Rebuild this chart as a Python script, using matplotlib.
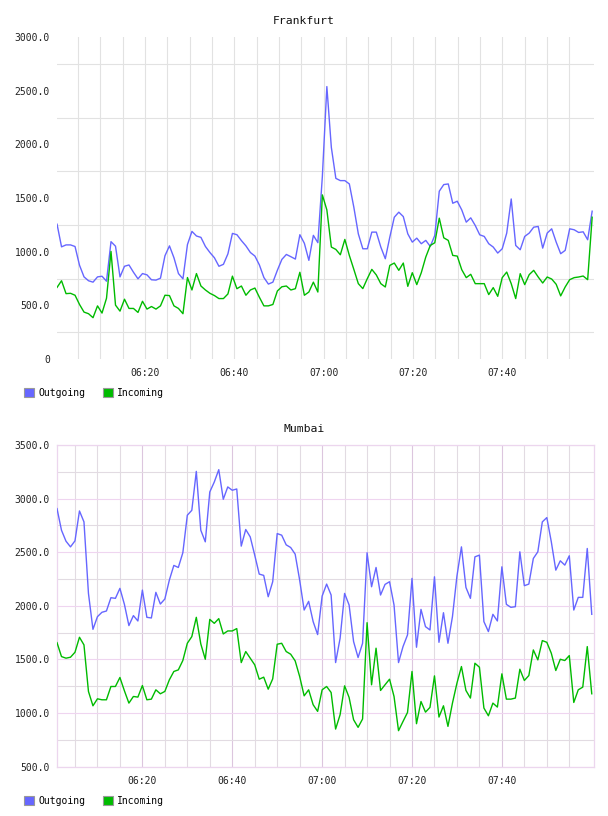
import numpy as np
import matplotlib
matplotlib.use('Agg')
import matplotlib.pyplot as plt
from matplotlib.patches import Patch

plt.rcParams['font.family'] = ['DejaVu Sans Mono']

# Frankfurt, one sample per minute from about 06:00
fra_out = [1256, 1045, 1063, 1063, 1048, 873, 765, 729, 716, 765,
           771, 725, 1093, 1051, 765, 864, 876, 808, 747, 796,
           784, 738, 735, 753, 962, 1054, 943, 796, 747, 1066,
           1189, 1146, 1133, 1048, 992, 943, 864, 882, 980, 1170,
           1158, 1103, 1054, 992, 959, 876, 759, 698, 716, 827,
           928, 974, 953, 931, 1158, 1078, 919, 1152, 1084, 1700,
           2538, 1971, 1683, 1662, 1662, 1631, 1414, 1166, 1027, 1027,
           1182, 1182, 1043, 934, 1135, 1321, 1368, 1327, 1166, 1089,
           1126, 1074, 1105, 1049, 1151, 1563, 1625, 1631, 1451, 1470,
           1389, 1275, 1315, 1244, 1157, 1142, 1074, 1043, 987, 1027,
           1173, 1491, 1058, 1018, 1142, 1173, 1228, 1235, 1033, 1173,
           1213, 1089, 981, 1012, 1213, 1204, 1179, 1185, 1111, 1377]
fra_in = [667, 729, 609, 612, 594, 508, 437, 422, 385, 495,
          428, 566, 1002, 502, 446, 557, 471, 471, 434, 538,
          465, 489, 465, 495, 594, 591, 495, 471, 422, 759,
          643, 796, 680, 643, 612, 591, 563, 563, 606, 772,
          655, 680, 594, 643, 661, 575, 495, 495, 508, 634,
          673, 680, 643, 655, 808, 594, 624, 716, 624, 1529,
          1389, 1043, 1021, 971, 1114, 965, 835, 702, 656, 749,
          835, 783, 702, 671, 872, 894, 826, 894, 677, 804,
          693, 804, 950, 1058, 1083, 1312, 1129, 1105, 965, 959,
          832, 758, 789, 702, 702, 702, 600, 665, 584, 758,
          810, 702, 563, 795, 693, 786, 826, 764, 708, 764,
          745, 696, 588, 671, 739, 758, 764, 773, 739, 1321]

# Mumbai, one sample per minute from 06:01
mum_out = [2907, 2705, 2603, 2550, 2606, 2885, 2783, 2116, 1781, 1899,
           1940, 1952, 2076, 2070, 2163, 2014, 1816, 1909, 1859, 2147,
           1893, 1887, 2126, 2017, 2064, 2240, 2377, 2358, 2495, 2845,
           2891, 3254, 2705, 2597, 3062, 3155, 3270, 2994, 3109, 3078,
           3090, 2557, 2712, 2643, 2473, 2296, 2284, 2085, 2225, 2674,
           2659, 2569, 2544, 2482, 2240, 1961, 2042, 1853, 1732, 2091,
           2203, 2101, 1471, 1698, 2116, 2008, 1667, 1518, 1651, 2495,
           2178, 2358, 2101, 2200, 2225, 2008, 1471, 1620, 1729, 2256,
           1614, 1967, 1806, 1775, 2271, 1660, 1936, 1651, 1899, 2278,
           2550, 2172, 2070, 2457, 2473, 1853, 1760, 1921, 1859, 2364,
           2014, 1986, 1992, 2504, 2188, 2203, 2442, 2504, 2783, 2823,
           2597, 2333, 2420, 2380, 2467, 1961, 2079, 2079, 2535, 1921]
mum_in = [1657, 1527, 1512, 1521, 1567, 1707, 1636, 1202, 1068, 1133,
          1124, 1124, 1248, 1248, 1332, 1208, 1093, 1155, 1149, 1257,
          1124, 1130, 1217, 1180, 1202, 1310, 1388, 1403, 1490, 1651,
          1713, 1893, 1645, 1502, 1874, 1837, 1881, 1738, 1766, 1766,
          1788, 1471, 1574, 1512, 1450, 1316, 1335, 1223, 1319, 1642,
          1651, 1574, 1549, 1487, 1341, 1161, 1217, 1078, 1016, 1217,
          1248, 1192, 851, 985, 1254, 1146, 938, 867, 945, 1843,
          1264, 1605, 1211, 1264, 1316, 1155, 836, 922, 1006, 1388,
          901, 1108, 1009, 1053, 1347, 963, 1068, 876, 1093, 1279,
          1434, 1211, 1140, 1465, 1428, 1047, 975, 1093, 1056, 1366,
          1130, 1130, 1140, 1409, 1304, 1350, 1589, 1496, 1676, 1660,
          1558, 1397, 1502, 1490, 1536, 1099, 1217, 1242, 1620, 1180]

# minutes after 06:00
fra_t = np.linspace(0.3, 120.1, len(fra_out))
mum_t = np.linspace(1.0, 120.0, len(mum_out))

time_ticks = [20, 40, 60, 80, 100]
time_labels = ['06:20', '06:40', '07:00', '07:20', '07:40']
minor_times = [m for m in range(5, 120, 5) if m not in time_ticks]

fra_yticks = [0, 500, 1000, 1500, 2000, 2500, 3000]
fra_ylabels = ['0', '500.0', '1000.0', '1500.0', '2000.0', '2500.0', '3000.0']
mum_yticks = [500, 1000, 1500, 2000, 2500, 3000, 3500]
mum_ylabels = ['500.0', '1000.0', '1500.0', '2000.0', '2500.0', '3000.0', '3500.0']

series_names = ['Outgoing', 'Incoming']
c_out = '#6666ff'
c_in = '#00bb00'

W, H = 608, 816
fig = plt.figure(figsize=(W / 100, H / 100), dpi=100)


def make_axes(left, top, right, bottom):
    return fig.add_axes([left / W, 1 - bottom / H, (right - left) / W, (bottom - top) / H])


def setup(ax, t, out, inc, xlim, ylim, yticks, ylabels, pink):
    ax.plot(t, out, color=c_out, lw=1.0, zorder=3)
    ax.plot(t, inc, color=c_in, lw=1.0, zorder=3)
    ax.set_xlim(*xlim)
    ax.set_ylim(*ylim)
    ax.set_xticks(time_ticks)
    ax.set_xticklabels(time_labels)
    ax.set_xticks(minor_times, minor=True)
    ax.set_yticks(yticks)
    ax.set_yticklabels(ylabels)
    ax.set_yticks([v + 250 for v in yticks[:-1]], minor=True)
    ax.tick_params(which='both', length=0, labelsize=7, colors='#222222')
    ax.tick_params(axis='y', pad=5)
    ax.tick_params(axis='x', pad=6.5)
    ax.set_axisbelow(True)
    gray = '#e2e2e2'
    if pink:
        ax.grid(which='minor', color='#e2dbe2', lw=0.8)
        ax.grid(which='major', axis='y', color='#efd5f0', lw=0.8)
        ax.grid(which='major', axis='x', color='#dcc6de', lw=0.8)
        for s in ax.spines.values():
            s.set_color('#ecd6ee')
            s.set_linewidth(0.9)
    else:
        ax.grid(which='minor', color=gray, lw=0.8)
        ax.grid(which='major', axis='x', color=gray, lw=0.8)
        for s in ax.spines.values():
            s.set_visible(False)


def legend(ax, top):
    handles = [Patch(facecolor=c_out, edgecolor='#999999', lw=0.8),
               Patch(facecolor=c_in, edgecolor='#999999', lw=0.8)]
    ax.legend(handles, series_names, loc='upper left',
              bbox_to_anchor=(24 / W, 1 - top / H), bbox_transform=fig.transFigure,
              ncol=2, frameon=False, fontsize=7, handlelength=1.05, handleheight=1.05,
              handletextpad=0.45, columnspacing=1.75, borderpad=0, borderaxespad=0)


ax1 = make_axes(57, 37, 593.5, 359)
setup(ax1, fra_t, fra_out, fra_in, (0.29, 120.4), (0, 3000),
      fra_yticks, fra_ylabels, pink=False)
legend(ax1, 388)
fig.text(0.5, 1 - 20.5 / H, 'Frankfurt', ha='center', va='center', fontsize=8.2, color='#111111')

ax2 = make_axes(57, 445, 594, 766.7)
setup(ax2, mum_t, mum_out, mum_in, (1.0, 120.5), (500, 3500),
      mum_yticks, mum_ylabels, pink=True)
legend(ax2, 796)
fig.text(0.5, 1 - 429 / H, 'Mumbai', ha='center', va='center', fontsize=8.2, color='#111111')

fig.savefig('out.png', dpi=100, facecolor='white')
